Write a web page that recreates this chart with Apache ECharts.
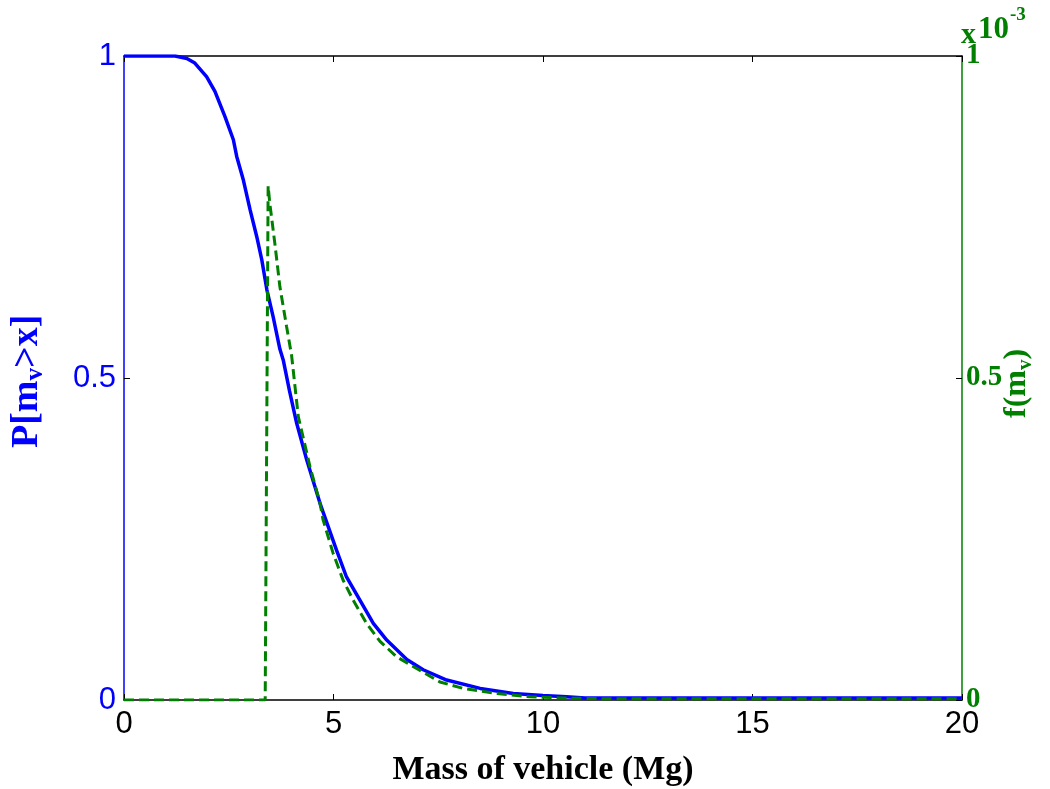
<!DOCTYPE html>
<html>
<head>
<meta charset="utf-8">
<script src="https://cdn.jsdelivr.net/npm/echarts@6/dist/echarts.min.js"></script>
<style>html,body{margin:0;padding:0;background:#fff}#c{width:1050px;height:789px}</style>
</head>
<body>
<div id="c"></div>
<script>
// Survival function P[m_v > x] (left axis)
const cdfX = [0, 0.5, 1.0, 1.22, 1.5, 1.69, 1.97, 2.17, 2.41, 2.61, 2.69, 2.85, 3.01, 3.17, 3.29, 3.41, 3.56, 3.72, 3.80, 3.95, 4.12, 4.36, 4.68, 5.07, 5.31, 5.63, 5.95, 6.27, 6.75, 7.14, 7.70, 8.50, 9.29, 10.0, 10.56, 11, 15, 20];
const cdfY = [1, 1, 1, 1, 0.996, 0.989, 0.968, 0.945, 0.906, 0.870, 0.844, 0.807, 0.761, 0.719, 0.683, 0.637, 0.595, 0.545, 0.528, 0.48, 0.430, 0.373, 0.305, 0.233, 0.191, 0.155, 0.119, 0.093, 0.063, 0.047, 0.031, 0.018, 0.010, 0.007, 0.005, 0.003, 0.003, 0.003];
// Density f(m_v) in units of 1e-3 (right axis)
const pdfX = [0, 3.37, 3.44, 3.48, 3.60, 3.72, 3.88, 4.0, 4.16, 4.44, 4.68, 4.75, 4.99, 5.23, 5.47, 5.79, 6.11, 6.51, 6.90, 7.54, 8.10, 8.89, 9.69, 10.5, 11.5, 20];
const pdfY = [0, 0, 0.798, 0.771, 0.709, 0.642, 0.580, 0.535, 0.44, 0.362, 0.305, 0.280, 0.228, 0.186, 0.155, 0.119, 0.091, 0.067, 0.052, 0.028, 0.018, 0.010, 0.005, 0.003, 0.002, 0.002];
const xTicks = [0, 5, 10, 15, 20];
const leftTicks = [0, 0.5, 1];
const rightTicks = [0, 0.5, 1];

const cdfData = cdfX.map((x, i) => [x, cdfY[i]]);
const pdfData = pdfX.map((x, i) => [x, pdfY[i]]);
const fmt = v => String(+v.toFixed(2));

const chart = echarts.init(document.getElementById('c'), null, {renderer: 'canvas'});
chart.setOption({
  animation: false,
  backgroundColor: '#fff',
  grid: {left: 124, right: 88, top: 56, bottom: 89, containLabel: false},
  xAxis: [{
    type: 'value', min: 0, max: 20, interval: 5, position: 'bottom',
    axisLine: {onZero: false, lineStyle: {color: '#000', width: 1.5}},
    axisTick: {inside: true, length: 6, lineStyle: {color: '#000'}},
    axisLabel: {color: '#000', fontFamily: 'Liberation Sans', fontSize: 31, margin: 9, formatter: fmt},
    splitLine: {show: false}
  }, {
    type: 'value', min: 0, max: 20, interval: 5, position: 'top',
    axisLine: {onZero: false, lineStyle: {color: '#000', width: 1.5}},
    axisTick: {inside: true, length: 6, lineStyle: {color: '#000'}},
    axisLabel: {show: false},
    splitLine: {show: false}
  }],
  yAxis: [{
    type: 'value', min: 0, max: 1, interval: 0.5, position: 'left',
    axisLine: {show: true, onZero: false, lineStyle: {color: '#0000ff', width: 1.5}},
    axisTick: {show: true, inside: true, length: 6, lineStyle: {color: '#000'}},
    axisLabel: {color: '#0000ff', fontFamily: 'Liberation Sans', fontSize: 31, margin: 8, formatter: fmt},
    splitLine: {show: false}
  }, {
    type: 'value', min: 0, max: 1, interval: 0.5, position: 'right',
    axisLine: {show: true, onZero: false, lineStyle: {color: '#007f00', width: 1.5}},
    axisTick: {show: true, inside: true, length: 6, lineStyle: {color: '#000'}},
    axisLabel: {color: '#007f00', fontFamily: 'Liberation Serif', fontWeight: 'bold', fontSize: 29, margin: 4, formatter: fmt},
    splitLine: {show: false}
  }],
  series: [{
    type: 'line', xAxisIndex: 0, yAxisIndex: 0, data: cdfData, showSymbol: false,
    lineStyle: {color: '#0000ff', width: 3.5}, z: 3
  }, {
    type: 'line', xAxisIndex: 0, yAxisIndex: 1, data: pdfData, showSymbol: false,
    lineStyle: {color: '#007f00', width: 3, type: [10, 5]}, z: 4
  }],
  graphic: [{
    type: 'text', x: 543, y: 753,
    style: {text: 'Mass of vehicle (Mg)', fill: '#000', font: 'bold 34px "Liberation Serif"', align: 'center'}
  }, {
    type: 'text', x: 8, y: 448, rotation: Math.PI / 2,
    style: {
      text: '{a|P[m}{s|v}{a|>x]}',
      rich: {
        a: {fill: '#0000ff', font: 'bold 38px "Liberation Serif"', verticalAlign: 'top', lineHeight: 40},
        s: {fill: '#0000ff', font: 'bold 25px "Liberation Serif"', verticalAlign: 'bottom', lineHeight: 40, padding: [15, 0, 0, 0]}
      }
    }
  }, {
    type: 'text', x: 1001, y: 418, rotation: Math.PI / 2,
    style: {
      text: '{a|f(m}{s|v}{a|)}',
      rich: {
        a: {fill: '#007f00', font: 'bold 32px "Liberation Serif"', verticalAlign: 'top', lineHeight: 35},
        s: {fill: '#007f00', font: 'bold 21px "Liberation Serif"', verticalAlign: 'bottom', lineHeight: 35, padding: [13, 0, 0, 0]}
      }
    }
  }, {
    type: 'text', x: 961, y: 20,
    style: {text: 'x', fill: '#007f00', font: 'bold 30px "Liberation Serif"'}
  }, {
    type: 'text', x: 978, y: 14,
    style: {text: '10', fill: '#007f00', font: 'bold 31px "Liberation Serif"'}
  }, {
    type: 'text', x: 1010, y: 6,
    style: {text: '-3', fill: '#007f00', font: 'bold 19px "Liberation Serif"'}
  }]
});
</script>
</body>
</html>
